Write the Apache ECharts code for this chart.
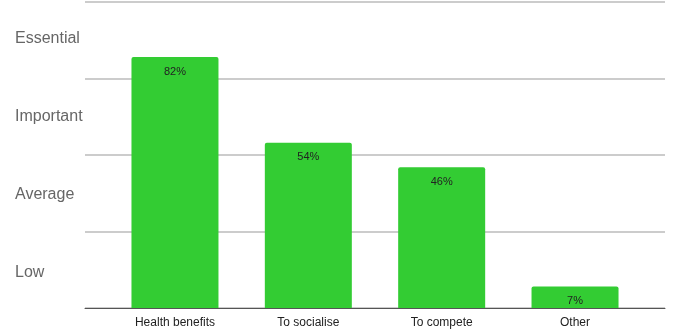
<!DOCTYPE html>
<html><head><meta charset="utf-8">
<script src="https://cdn.jsdelivr.net/npm/echarts@6/dist/echarts.min.js"></script>
<style>html,body{margin:0;padding:0;background:#fff}#c{width:674px;height:332px}</style>
</head><body><div id="c"></div>
<script>
var categories = ['Health benefits', 'To socialise', 'To compete', 'Other'];
var values = [82, 54, 46, 7];
var levelLabels = ['Low', 'Average', 'Important', 'Essential'];

var chart = echarts.init(document.getElementById('c'));
chart.setOption({
  animation: false,
  grid: [
    {left: 85, right: 9, top: 2, bottom: 24},
    {left: 108.3, right: 32.3, top: 2, bottom: 24},
    {left: 85, right: 9, top: -0.8, bottom: 19.9}
  ],
  xAxis: [
    {gridIndex: 0, type: 'value', min: 0, max: 1, axisLabel: {show: false}, axisTick: {show: false}, splitLine: {show: false},
     axisLine: {show: true, lineStyle: {color: '#555', width: 1}}},
    {gridIndex: 1, type: 'category', data: categories, axisLine: {show: false}, axisTick: {show: false},
     axisLabel: {color: '#222', fontSize: 12, fontFamily: 'Liberation Sans, Arial, sans-serif', margin: 9}},
    {gridIndex: 2, type: 'value', min: 0, max: 1, show: false}
  ],
  yAxis: [
    {gridIndex: 0, type: 'value', min: 0, max: 100, interval: 25, axisLabel: {show: false}, axisLine: {show: false}, axisTick: {show: false},
     splitLine: {show: true, lineStyle: {color: '#bbb', width: 1.5}}},
    {gridIndex: 2, type: 'category', data: levelLabels, position: 'left', boundaryGap: true,
     axisLine: {show: false}, axisTick: {show: false}, splitLine: {show: false},
     axisLabel: {align: 'left', margin: 70, color: '#666', fontSize: 16, fontFamily: 'Liberation Sans, Arial, sans-serif'}},
    {gridIndex: 1, type: 'value', min: 0, max: 100, show: false, splitLine: {show: false}}
  ],
  series: [{
    type: 'bar',
    xAxisIndex: 1, yAxisIndex: 2,
    data: values,
    barWidth: 87,
    itemStyle: {color: '#33cc33', borderRadius: [2, 2, 0, 0]},
    label: {show: true, position: 'insideTop', distance: 9, color: '#222', fontSize: 11,
      fontFamily: 'Liberation Sans, Arial, sans-serif', formatter: function(p){ return p.value + '%'; }}
  }]
});
</script></body></html>
